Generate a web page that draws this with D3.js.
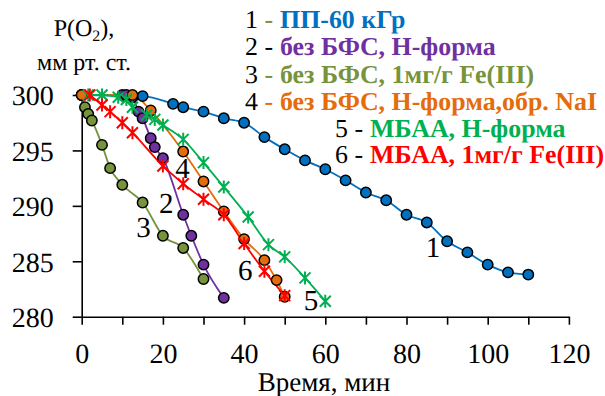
<!DOCTYPE html>
<html><head><meta charset="utf-8">
<script src="https://cdn.jsdelivr.net/npm/d3@7"></script>
<style>body{margin:0;background:#fff}svg{display:block}</style>
</head><body><svg id="c" width="605" height="396"></svg>
<script>
const xTicks = [0,10,20,30,40,50,60,70,80,90,100,110,120];
const yTicks = [280,285,290,295,300];

const s1t = [0,15,22.5,25,30,35,40,45,50,55,60,65,70,75,80,85,90,95,100,105,110];
const s1v = [300,299.9,299.2,298.9,298.5,297.9,297.5,296.2,295.1,294.1,293.3,292.3,291.2,290.5,289.2,288.5,286.8,285.8,284.7,284.0,283.8];
const s2t = [10,11,12.5,14,15,17,18,20,25,27,30,35];
const s2v = [300,300,299.8,298.5,297.9,296.1,295.3,294.3,289.2,287.3,284.7,281.7];
const s3t = [0,0.8,1.6,2.5,5,7,10,15,20,25,30];
const s3v = [300,298.9,298.3,297.7,295.5,293.4,291.9,290.3,287.3,286.2,283.4];
const s4t = [0,12.5,17,25,30,35,40,45,48,50];
const s4v = [300,300,298.6,294.9,292.2,289.5,287.0,285.1,283.3,281.8];
const s5t = [1.6,5,9,11,12.5,16,18,20,25,30,35,41,46,50,55,60];
const s5v = [300,300,299.8,299.6,298.9,298.2,297.8,297.3,296.0,293.9,291.7,289.0,286.5,285.4,283.5,281.4];
const s6t = [2,5,7,10,12.5,20,25,30,35,40,45,50];
const s6v = [300,299.1,298.5,297.5,296.6,293.6,292.0,290.6,289.2,286.6,284.1,281.9];

const legendNums = ["1","2","3","4","5","6"];
const legendText = ["ПП-60 кГр","без БФС, Н-форма","без БФС, 1мг/г Fe(III)","без БФС, Н-форма,обр. NaI","МБАА, Н-форма","МБАА, 1мг/г Fe(III)"];
const colors = ["#0070C0","#7030A0","#77933C","#E46C0A","#00B050","#FF0000"];
const dashColors = ["#77933C","#000","#77933C","#E46C0A","#000","#000"];
const markers = ["circle","circle","circle","circle","star","star"];
const curveLabels = ["1","2","3","4","5","6"];
const labelPos = [[86.5,285.4],[20.8,289.4],[15.2,287.2],[24.8,292.5],[56.5,280.6],[40.3,283.3]];

const series = [[s1t,s1v],[s2t,s2v],[s3t,s3v],[s4t,s4v],[s5t,s5v],[s6t,s6v]];

const svg = d3.select("#c");
const FONT = "Liberation Serif";
const x = d3.scaleLinear().domain([0,120]).range([81.7,568.9]);
const y = d3.scaleLinear().domain([280,300]).range([316.7,95]);

// axes
const xa = svg.append("g").attr("transform","translate(0,316.7)")
  .call(d3.axisBottom(x).tickValues(xTicks).tickSize(8).tickSizeOuter(0)
    .tickFormat(d => d % 20 === 0 ? d : ""));
xa.attr("font-family",FONT).attr("font-size",28);
xa.selectAll("text").attr("y",46).attr("dy",0).attr("fill","#000").attr("font-family",FONT).attr("font-size",28);
const ya = svg.append("g").attr("transform","translate(81.7,0)")
  .call(d3.axisLeft(y).tickValues(yTicks).tickSize(9).tickSizeOuter(0).tickPadding(19));
ya.attr("font-family",FONT).attr("font-size",28);
ya.selectAll("text").attr("fill","#000").attr("dy","0.35em").attr("font-family",FONT).attr("font-size",28);
svg.selectAll(".domain, .tick line").attr("stroke","#000").attr("stroke-width",1.6);

// lines
const line = d3.line().x(d=>x(d[0])).y(d=>y(d[1])).curve(d3.curveMonotoneX);
const order = [0,2,1,3,4,5];
order.forEach(i=>{
  const data = series[i][0].map((t,k)=>[t, series[i][1][k]]);
  svg.append("path").datum(data).attr("d",line).attr("fill","none").attr("stroke",colors[i]).attr("stroke-width",1.8);
});
order.forEach(i=>{
  const data = series[i][0].map((t,k)=>[t, series[i][1][k]]);
  const g = svg.append("g");
  if (markers[i]==="circle") {
    g.selectAll("circle").data(data).join("circle")
      .attr("cx",d=>x(d[0])).attr("cy",d=>y(d[1])).attr("r",5.2)
      .attr("fill",colors[i]).attr("stroke","#000").attr("stroke-width",1.5);
  } else {
    const s = 5.5;
    g.selectAll("path").data(data).join("path")
      .attr("d",d=>{const cx=x(d[0]),cy=y(d[1]);
        return `M${cx-s},${cy-s}L${cx+s},${cy+s}M${cx-s},${cy+s}L${cx+s},${cy-s}M${cx},${cy-s-1}L${cx},${cy+s+1}`;})
      .attr("stroke",colors[i]).attr("stroke-width",2).attr("fill","none");
  }
});

// curve labels
curveLabels.forEach((l,i)=>{
  svg.append("text").attr("x",x(labelPos[i][0])).attr("y",y(labelPos[i][1]))
    .attr("text-anchor","middle").attr("font-family",FONT).attr("font-size",29).text(l);
});

// legend
const legX = [245,245,245,245,335,335];
const descX = [280,280,280,280,370,370];
const legY = [28,55,83,110,137,163];
const probe = svg.append("text").attr("font-family",FONT).attr("font-weight","bold").attr("font-size",22).text(legendText[3]);
const w = probe.node().getComputedTextLength();
probe.remove();
const descSize = Math.max(18, Math.min(26, 22*317/w));
legendNums.forEach((n,i)=>{
  const t = svg.append("text").attr("y",legY[i]).attr("font-family",FONT).attr("font-size",descSize);
  t.append("tspan").attr("x",legX[i]).attr("fill","#000").text(n+" ");
  t.append("tspan").attr("fill",dashColors[i]).text("-");
  t.append("tspan").attr("x",descX[i]).attr("fill",colors[i]).attr("font-weight","bold").text(legendText[i]);
});

// titles
const yt = svg.append("text").attr("x",84).attr("y",36).attr("text-anchor","middle").attr("font-family",FONT).attr("font-size",24);
yt.append("tspan").text("P(O");
yt.append("tspan").attr("dy",5).attr("font-size",16).text("2");
yt.append("tspan").attr("dy",-5).text("),");
svg.append("text").attr("x",84).attr("y",70).attr("text-anchor","middle").attr("font-family",FONT).attr("font-size",24).text("мм рт. ст.");
svg.append("text").attr("x",324).attr("y",391).attr("text-anchor","middle").attr("font-family",FONT).attr("font-size",27).text("Время, мин");

// draw every text at a 20px base size scaled up by a transform (keeps serif outlines)
const BASE = 20;
svg.selectAll("text").each(function(){
  const t = d3.select(this);
  const fs = parseFloat(t.attr("font-size")) || parseFloat(getComputedStyle(this).fontSize) || BASE;
  const k = fs / BASE;
  const x0 = parseFloat(t.attr("x")) || 0, y0 = parseFloat(t.attr("y")) || 0;
  const tr = t.attr("transform") || "";
  t.attr("transform", `${tr} translate(${x0},${y0}) scale(${k})`)
   .attr("x", 0).attr("y", 0).attr("font-size", BASE)
   .attr("text-rendering","geometricPrecision");
  t.selectAll("tspan").each(function(){
    const s = d3.select(this);
    if (s.attr("x") !== null) s.attr("x", (parseFloat(s.attr("x")) - x0) / k);
    if (s.attr("dy") !== null) s.attr("dy", parseFloat(s.attr("dy")) / k);
    if (s.attr("font-size") !== null) s.attr("font-size", parseFloat(s.attr("font-size")) / k);
  });
});
</script></body></html>
